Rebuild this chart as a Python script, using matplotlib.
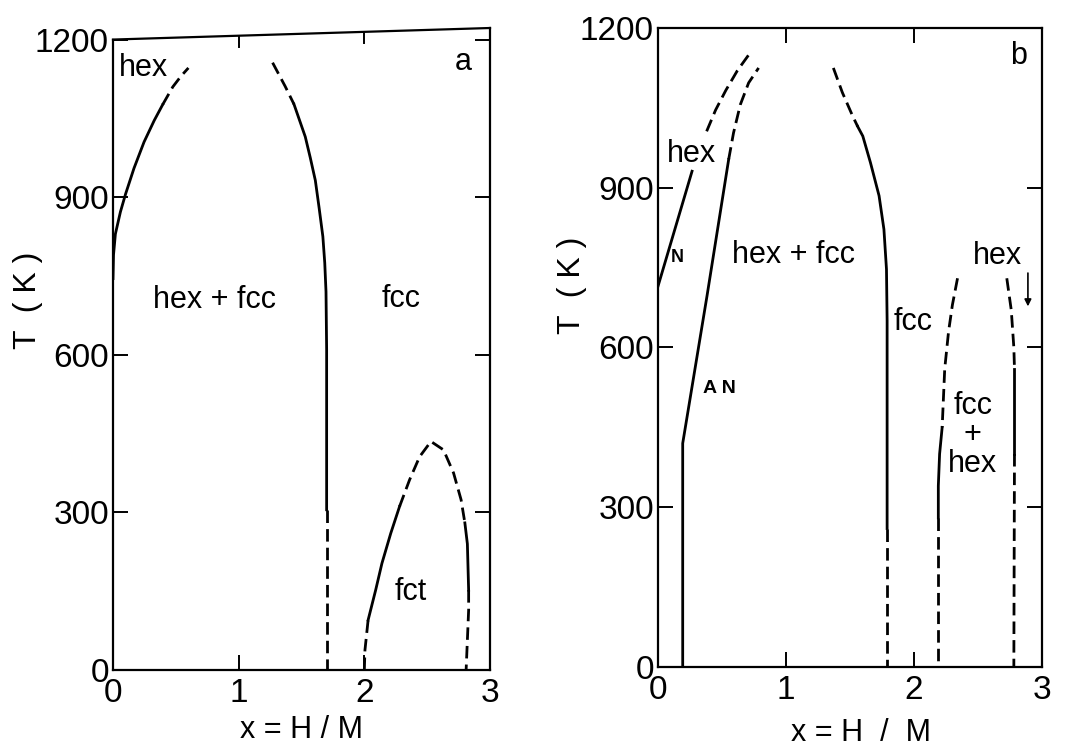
import numpy as np
import matplotlib
matplotlib.use("Agg")
import matplotlib.pyplot as plt

plt.rcParams['font.family'] = ['Liberation Sans', 'DejaVu Sans']

# ---- panel a: phase boundaries (x = H/M, T in K) ----
a_hex_solid_x = [0.0, 0.004, 0.019, 0.059, 0.10, 0.167, 0.247, 0.328, 0.395]
a_hex_solid_T = [745, 790, 830, 872, 906, 955, 1005, 1046, 1076]
a_hex_dash_x = [0.395, 0.476, 0.54, 0.60]
a_hex_dash_T = [1076, 1110, 1130, 1146]

a_fcc_dash_x = [1.27, 1.37, 1.44]
a_fcc_dash_T = [1156, 1111, 1077]
a_fcc_solid_x = [1.44, 1.53, 1.57, 1.61, 1.64, 1.67, 1.685, 1.695, 1.70, 1.70]
a_fcc_solid_T = [1077, 1015, 975, 932, 880, 825, 775, 720, 610, 305]
a_fcc_low_x = [1.70, 1.70]
a_fcc_low_T = [305, 0]

a_fct_x = [2.00, 2.005, 2.03, 2.09, 2.14, 2.21, 2.28, 2.36, 2.44, 2.53,
           2.63, 2.71, 2.77, 2.80, 2.82, 2.83, 2.83, 2.81]
a_fct_T = [0, 38, 95, 152, 203, 260, 311, 362, 406, 435,
           419, 375, 324, 280, 240, 152, 114, 0]
# style of each segment between consecutive points: s = solid, d = dashed
a_fct_style = ['d', 'd', 's', 's', 's', 's', 'd', 'd', 'd',
               'd', 'd', 'd', 'd', 's', 's', 'd', 'd']

# top edge of the scanned frame is slightly tilted
a_top_x = [0, 3]
a_top_T = [1200, 1222]

# ---- panel b ----
b_hexN_x = [0.0, 0.266]
b_hexN_T = [715, 931]
b_hexN_dash_x = [0.38, 0.45, 0.53, 0.62, 0.71]
b_hexN_dash_T = [1006, 1046, 1083, 1120, 1150]

b_AN_x = [0.193, 0.193, 0.383, 0.552]
b_AN_T = [0, 420, 697, 953]
b_AN_dash_x = [0.552, 0.59, 0.643, 0.708, 0.786]
b_AN_dash_T = [953, 1003, 1056, 1097, 1125]

b_fcc_dash_x = [1.37, 1.44, 1.52, 1.56]
b_fcc_dash_T = [1125, 1079, 1035, 1015]
b_fcc_solid_x = [1.56, 1.60, 1.66, 1.727, 1.765, 1.785, 1.79, 1.79]
b_fcc_solid_T = [1015, 997, 947, 885, 822, 747, 650, 260]
b_fcc_low_x = [1.79, 1.79]
b_fcc_low_T = [260, 0]

b_L_dash_x = [2.34, 2.30, 2.27, 2.24, 2.22]
b_L_dash_T = [730, 680, 630, 560, 450]
b_L_solid_x = [2.22, 2.20, 2.19, 2.19]
b_L_solid_T = [450, 400, 340, 280]
b_L_low_x = [2.19, 2.19]
b_L_low_T = [280, 0]

b_R_dash_x = [2.725, 2.76, 2.78, 2.785]
b_R_dash_T = [730, 670, 600, 560]
b_R_solid_x = [2.785, 2.785, 2.785]
b_R_solid_T = [560, 480, 400]
b_R_low_x = [2.785, 2.78]
b_R_low_T = [400, 0]

X_TICKS = [0, 1, 2, 3]
Y_TICKS = [0, 300, 600, 900, 1200]

LW = 2.0
DASH = (0, (4.5, 2.2))
K = 'black'


def style_axes(ax, ylim_top):
    ax.set_xlim(0, 3)
    ax.set_ylim(0, ylim_top)
    ax.set_xticks(X_TICKS)
    ax.set_yticks(Y_TICKS)
    ax.tick_params(direction='in', length=11, width=1.4, labelsize=24,
                   top=True, right=True, pad=3)
    ax.tick_params(axis='x', pad=6)
    for s in ax.spines.values():
        s.set_linewidth(1.6)


def plot_styled(ax, xs, ts, styles):
    # join consecutive segments of the same style into one line
    start = 0
    for i in range(1, len(styles) + 1):
        if i == len(styles) or styles[i] != styles[start]:
            ls = '-' if styles[start] == 's' else DASH
            ax.plot(xs[start:i + 1], ts[start:i + 1], color=K, lw=LW, ls=ls)
            start = i


fig = plt.figure(figsize=(10.66, 7.51), dpi=100)

# ================= panel a =================
ax = fig.add_axes([113 / 1066, 1 - 670 / 751, 377 / 1066, 642 / 751])
style_axes(ax, 1222)
ax.spines['top'].set_visible(False)
ax.spines['left'].set_bounds(0, 1200)
ax.tick_params(top=False)
ax.plot(a_top_x, a_top_T, color=K, lw=1.6, clip_on=False)
# top ticks following the tilted edge
for xt in [1, 2]:
    yt = np.interp(xt, a_top_x, a_top_T)
    ax.plot([xt, xt], [yt, yt - 22], color=K, lw=1.4)

ax.plot(a_hex_solid_x, a_hex_solid_T, color=K, lw=LW)
ax.plot(a_hex_dash_x, a_hex_dash_T, color=K, lw=LW, ls=DASH)
ax.plot(a_fcc_dash_x, a_fcc_dash_T, color=K, lw=LW, ls=DASH)
ax.plot(a_fcc_solid_x, a_fcc_solid_T, color=K, lw=LW)
ax.plot(a_fcc_low_x, a_fcc_low_T, color=K, lw=LW, ls=DASH)
plot_styled(ax, a_fct_x, a_fct_T, a_fct_style)

fs = 22
ax.text(0.245, 1145, 'hex', fontsize=fs, ha='center', va='center')
ax.text(0.805, 704, 'hex + fcc', fontsize=fs, ha='center', va='center')
ax.text(2.29, 707, 'fcc', fontsize=fs, ha='center', va='center')
ax.text(2.79, 1157, 'a', fontsize=fs, ha='center', va='center')
ax.text(2.37, 148, 'fct', fontsize=fs, ha='center', va='center')

ax.set_xlabel('x = H / M', fontsize=22)
ax.xaxis.set_label_coords(0.5, -0.07)
ax.set_ylabel('T  ( K )', fontsize=23)
ax.yaxis.set_label_coords(-0.186, 0.576)

# ================= panel b =================
bx = fig.add_axes([658 / 1066, 1 - 667 / 751, 384 / 1066, 639 / 751])
style_axes(bx, 1200)

bx.plot(b_hexN_x, b_hexN_T, color=K, lw=LW)
bx.plot(b_hexN_dash_x, b_hexN_dash_T, color=K, lw=LW, ls=DASH)
bx.plot(b_AN_x, b_AN_T, color=K, lw=LW)
bx.plot(b_AN_dash_x, b_AN_dash_T, color=K, lw=LW, ls=DASH)
bx.plot(b_fcc_dash_x, b_fcc_dash_T, color=K, lw=LW, ls=DASH)
bx.plot(b_fcc_solid_x, b_fcc_solid_T, color=K, lw=LW)
bx.plot(b_fcc_low_x, b_fcc_low_T, color=K, lw=LW, ls=DASH)
bx.plot(b_L_dash_x, b_L_dash_T, color=K, lw=LW, ls=DASH)
bx.plot(b_L_solid_x, b_L_solid_T, color=K, lw=LW)
bx.plot(b_L_low_x, b_L_low_T, color=K, lw=LW, ls=DASH)
bx.plot(b_R_dash_x, b_R_dash_T, color=K, lw=LW, ls=DASH)
bx.plot(b_R_solid_x, b_R_solid_T, color=K, lw=LW)
bx.plot(b_R_low_x, b_R_low_T, color=K, lw=LW, ls=DASH)

bx.text(0.26, 964, 'hex', fontsize=fs, ha='center', va='center')
bx.text(0.15, 769, 'N', fontsize=13, ha='center', va='center',
        fontweight='bold')
bx.text(0.48, 523, 'A N', fontsize=14, ha='center', va='center',
        fontweight='bold')
bx.text(1.06, 773, 'hex + fcc', fontsize=fs, ha='center', va='center')
bx.text(2.65, 771, 'hex', fontsize=fs, ha='center', va='center')
bx.text(1.99, 647, 'fcc', fontsize=fs, ha='center', va='center')
bx.text(2.46, 436, 'fcc\n+\nhex', fontsize=fs, ha='center', va='center',
        linespacing=0.95)
bx.text(2.82, 1147, 'b', fontsize=fs, ha='center', va='center')
bx.annotate('', xy=(2.89, 672), xytext=(2.89, 745),
            arrowprops=dict(arrowstyle='-|>', color=K, lw=1.2,
                            mutation_scale=10))

bx.set_xlabel('x = H  /  M', fontsize=22)
bx.xaxis.set_label_coords(0.529, -0.08)
bx.set_ylabel('T  ( K )', fontsize=23)
bx.yaxis.set_label_coords(-0.185, 0.598)

fig.savefig('out.png', dpi=100)
